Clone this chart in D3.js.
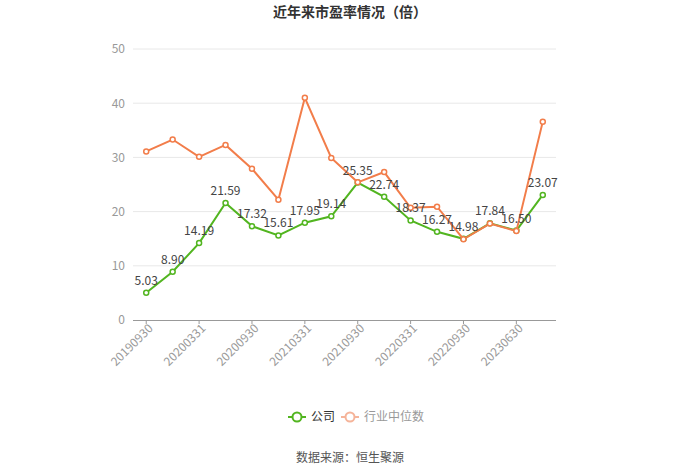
<!DOCTYPE html>
<html><head><meta charset="utf-8">
<script src="https://cdn.jsdelivr.net/npm/d3@7/dist/d3.min.js"></script>
<style>body{margin:0;background:#fff;}svg{display:block;font-family:"Noto Sans CJK SC","Noto Sans",sans-serif;}</style>
</head><body>
<svg id="c" width="700" height="474"></svg>
<script>
const categories = ["20190930","20191231","20200331","20200630","20200930","20201231","20210331","20210630","20210930","20211231","20220331","20220630","20220930","20221231","20230630","20230930"];
const companyPE = [5.03,8.90,14.19,21.59,17.32,15.61,17.95,19.14,25.35,22.74,18.37,16.27,14.98,17.84,16.50,23.07];
const industryPE = [31.1,33.3,30.1,32.3,27.9,22.2,41.0,29.9,25.4,27.3,20.7,20.9,14.9,17.8,16.4,36.6];
const yTicks = [0,10,20,30,40,50];
const seriesNames = ["公司","行业中位数"];
const title = "近年来市盈率情况（倍）";
const source = "数据来源：恒生聚源";

const green = "#52b520", orange = "#f27d4a";
const svg = d3.select("#c");
const L = 133, R = 556, T = 49, B = 320;
const x = d3.scaleBand().domain(categories).range([L, R]);
const y = d3.scaleLinear().domain([0, 50]).range([B, T]);
const cx = d => x(d) + x.bandwidth() / 2;

svg.append("text").attr("x", 350).attr("y", 17).attr("text-anchor", "middle")
  .attr("font-size", 14).attr("font-weight", "bold").attr("fill", "#333").text(title);

// grid
svg.append("g").selectAll("line").data(yTicks.filter(t => t > 0)).join("line")
  .attr("x1", L).attr("x2", R).attr("y1", d => y(d)).attr("y2", d => y(d))
  .attr("stroke", "#e8e8e8").attr("stroke-width", 1);

// y axis labels
const ya = svg.append("g").attr("transform", `translate(${L},0)`)
  .call(d3.axisLeft(y).tickValues(yTicks).tickSize(0).tickPadding(8));
ya.select(".domain").remove();
ya.selectAll("text").attr("fill", "#999").attr("font-size", 12).attr("font-family", "'Noto Sans CJK SC','Noto Sans',sans-serif");

// x axis
const xa = svg.append("g").attr("transform", `translate(0,${B})`)
  .call(d3.axisBottom(x).tickValues(categories.filter((d, i) => i % 2 === 0)).tickSize(4).tickPadding(4));
xa.select(".domain").attr("stroke", "#999").attr("d", `M${L},0.5H${R}`);
xa.selectAll(".tick line").attr("stroke", "#999");
xa.selectAll("text").attr("fill", "#999").attr("font-size", 12)
  .attr("font-family", "'Noto Sans CJK SC','Noto Sans',sans-serif")
  .attr("text-anchor", "end").attr("dx", "-0.1em").attr("dy", "0.3em")
  .attr("transform", "rotate(-45)");

function drawSeries(vals, color) {
  const line = d3.line().x((d, i) => cx(categories[i])).y(d => y(d));
  svg.append("path").datum(vals).attr("d", line).attr("fill", "none")
    .attr("stroke", color).attr("stroke-width", 2);
  svg.append("g").selectAll("circle").data(vals).join("circle")
    .attr("cx", (d, i) => cx(categories[i])).attr("cy", d => y(d)).attr("r", 2.5)
    .attr("fill", "#fff").attr("stroke", color).attr("stroke-width", 1.5);
}
drawSeries(companyPE, green);
drawSeries(industryPE, orange);

svg.append("g").selectAll("text").data(companyPE).join("text")
  .attr("x", (d, i) => cx(categories[i])).attr("y", d => y(d) - 8)
  .attr("text-anchor", "middle").attr("font-size", 12).attr("fill", "#444")
  .text(d => d.toFixed(2));

// legend
const lg = svg.append("g").attr("transform", "translate(0,417)");
const items = [{n: seriesNames[0], c: green, tc: "#333", x: 288}, {n: seriesNames[1], c: "#f5b49a", tc: "#999", x: 341}];
items.forEach(it => {
  lg.append("line").attr("x1", it.x).attr("x2", it.x + 18).attr("y1", 0).attr("y2", 0)
    .attr("stroke", it.c).attr("stroke-width", 2);
  lg.append("circle").attr("cx", it.x + 9).attr("cy", 0).attr("r", 4.5)
    .attr("fill", "#fff").attr("stroke", it.c).attr("stroke-width", 2);
  lg.append("text").attr("x", it.x + 23).attr("y", 0).attr("dy", "0.35em")
    .attr("font-size", 12).attr("fill", it.tc).text(it.n);
});

svg.append("text").attr("x", 350).attr("y", 462).attr("text-anchor", "middle")
  .attr("font-size", 12).attr("fill", "#555").text(source);
</script>
</body></html>
